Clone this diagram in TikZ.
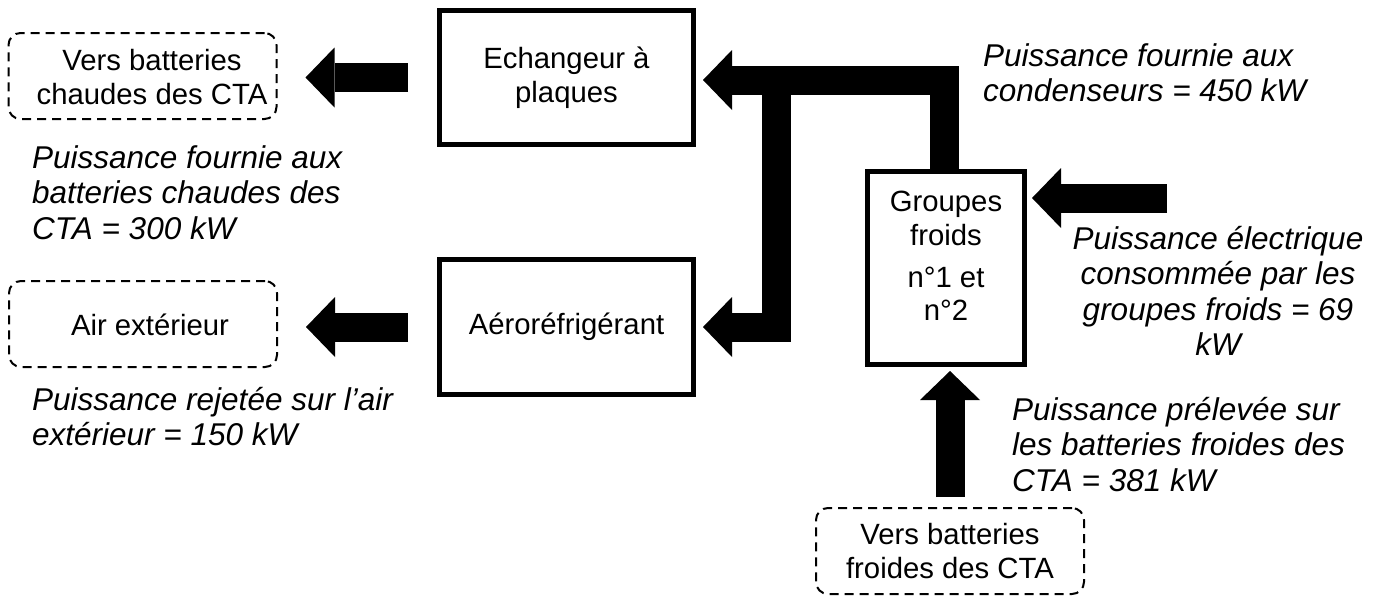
\documentclass[tikz,border=0pt]{standalone}
\usepackage{fontspec}
\setmainfont{Liberation Sans}
\usetikzlibrary{arrows.meta}
\newcommand{\boxfont}{\fontsize{29.3}{33.7}\selectfont}
\newcommand{\labfont}{\fontsize{31.5}{35.5}\selectfont\itshape}
\begin{document}
\begin{tikzpicture}[x=1pt,y=-1pt,
  solidbox/.style={draw, line width=5pt, inner sep=0pt, align=center, font=\boxfont},
  dbox/.style={draw, line width=2pt, dash pattern=on 9pt off 6pt, rounded corners=12pt, inner sep=0pt, minimum width=268pt, minimum height=86pt},
  btext/.style={align=center, inner sep=0pt, font=\boxfont},
  lab/.style={inner sep=0pt, font=\labfont},
  flow/.style={line width=29pt, line cap=butt, line join=miter, -{Triangle[length=29pt, width=60pt, line width=0pt]}},
]
\useasboundingbox (0,0) rectangle (1374,597);

% solid boxes
\node[solidbox, minimum width=254pt, minimum height=134pt] (ech) at (566.5,77.5) {Echangeur à\\plaques};
\node[solidbox, minimum width=254pt, minimum height=135pt] (aero) at (566.5,327) {Aéroréfrigérant};
\node[solidbox, minimum width=157pt, minimum height=193pt] (grp) at (946,268) {};
\node[btext, anchor=north] (grptxt) at (946,191) {Groupes\\froids\\[8pt]n°1 et\\n°2};

% dashed boxes
\node[dbox] (vbc) at (142.5,76) {};
\node[btext] (vbctxt) at (152,77) {Vers batteries\\chaudes des CTA};
\node[dbox] (air) at (143,324) {};
\node[btext] (airtxt) at (150,325) {Air extérieur};
\node[dbox] (vbf) at (950,551) {};
\node[btext] (vbftxt) at (950,551) {Vers batteries\\froides des CTA};

% flows
\draw[flow, shorten <=29pt, shorten >=28pt] (ech.west) -- (vbc.east |- ech.west);
\draw[flow, shorten <=29pt, shorten >=28pt] (aero.west) -- (air.east |- aero.west);

\coordinate (j1) at (944.5,80);
\coordinate (j2) at (776,80);
\coordinate (j3) at (776,327);
\draw[flow, shorten >=7pt] (grp.north -| j1) -- (j1) -- (ech.east |- j1);
\draw[flow, shorten >=7pt] (j2) -- (j3) -- (aero.east |- j3);

\coordinate (e1) at (1167,198);
\draw[flow, shorten >=5pt] (e1) -- (grp.east |- e1);
\draw[flow, shorten <=10pt, shorten >=4pt] (vbf.north) -- (vbf.north |- grp.south);

% labels
\node[lab, anchor=north west, align=left] (l1) at (32,145) {Puissance fournie aux\\batteries chaudes des\\CTA = 300 kW};
\node[lab, anchor=north west, align=left] (l2) at (32,387) {Puissance rejetée sur l’air\\extérieur = 150 kW};
\node[lab, anchor=north west, align=left] (l3) at (983,43) {Puissance fournie aux\\condenseurs = 450 kW};
\node[lab, anchor=north, align=center] (l4) at (1218,226) {Puissance électrique\\consommée par les\\groupes froids = 69\\kW};
\node[lab, anchor=north west, align=left] (l5) at (1012,397) {Puissance prélevée sur\\les batteries froides des\\CTA = 381 kW};
\end{tikzpicture}
\end{document}
